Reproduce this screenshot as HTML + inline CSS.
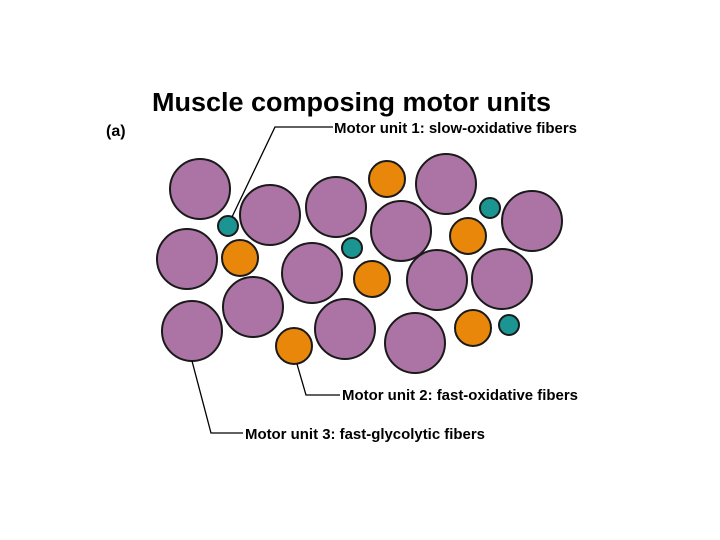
<!DOCTYPE html>
<html><head><style>
body{margin:0;background:#fff;}
svg{display:block}
text{font-family:"Liberation Sans",Arial,sans-serif;font-weight:bold;fill:#000}
</style></head><body>
<svg width="720" height="540" viewBox="0 0 720 540">
<text x="152" y="111" font-size="25.5" textLength="399" lengthAdjust="spacingAndGlyphs">Muscle composing motor units</text>
<text x="106" y="136" font-size="16">(a)</text>
<g stroke="#1a1a1a" stroke-width="2" fill="#ab74a5">
<circle cx="200" cy="189" r="30"/>
<circle cx="270" cy="215" r="30"/>
<circle cx="336" cy="207" r="30"/>
<circle cx="446" cy="184" r="30"/>
<circle cx="401" cy="231" r="30"/>
<circle cx="532" cy="221" r="30"/>
<circle cx="187" cy="259" r="30"/>
<circle cx="312" cy="273" r="30"/>
<circle cx="253" cy="307" r="30"/>
<circle cx="192" cy="331" r="30"/>
<circle cx="345" cy="329" r="30"/>
<circle cx="415" cy="343" r="30"/>
<circle cx="437" cy="280" r="30"/>
<circle cx="502" cy="279" r="30"/>
</g>
<g stroke="#1a1a1a" stroke-width="2" fill="#e8870a">
<circle cx="387" cy="179" r="18"/>
<circle cx="240" cy="258" r="18"/>
<circle cx="372" cy="279" r="18"/>
<circle cx="294" cy="346" r="18"/>
<circle cx="468" cy="236" r="18"/>
<circle cx="473" cy="328" r="18"/>
</g>
<g stroke="#1a1a1a" stroke-width="2" fill="#1a9591">
<circle cx="228" cy="226" r="10"/>
<circle cx="352" cy="248" r="10"/>
<circle cx="490" cy="208" r="10"/>
<circle cx="509" cy="325" r="10"/>
</g>
<g stroke="#000" stroke-width="1.3" fill="none">
<polyline points="232,217 275,127 333,127"/>
<polyline points="297,364 306,395 340,395"/>
<polyline points="192,361 211,433 243,433"/>
</g>
<text x="334" y="133" font-size="14.5" textLength="243" lengthAdjust="spacingAndGlyphs">Motor unit 1: slow-oxidative fibers</text>
<text x="342" y="400" font-size="14.5" textLength="236" lengthAdjust="spacingAndGlyphs">Motor unit 2: fast-oxidative fibers</text>
<text x="245" y="439" font-size="14.5" textLength="240" lengthAdjust="spacingAndGlyphs">Motor unit 3: fast-glycolytic fibers</text>
</svg>
</body></html>
